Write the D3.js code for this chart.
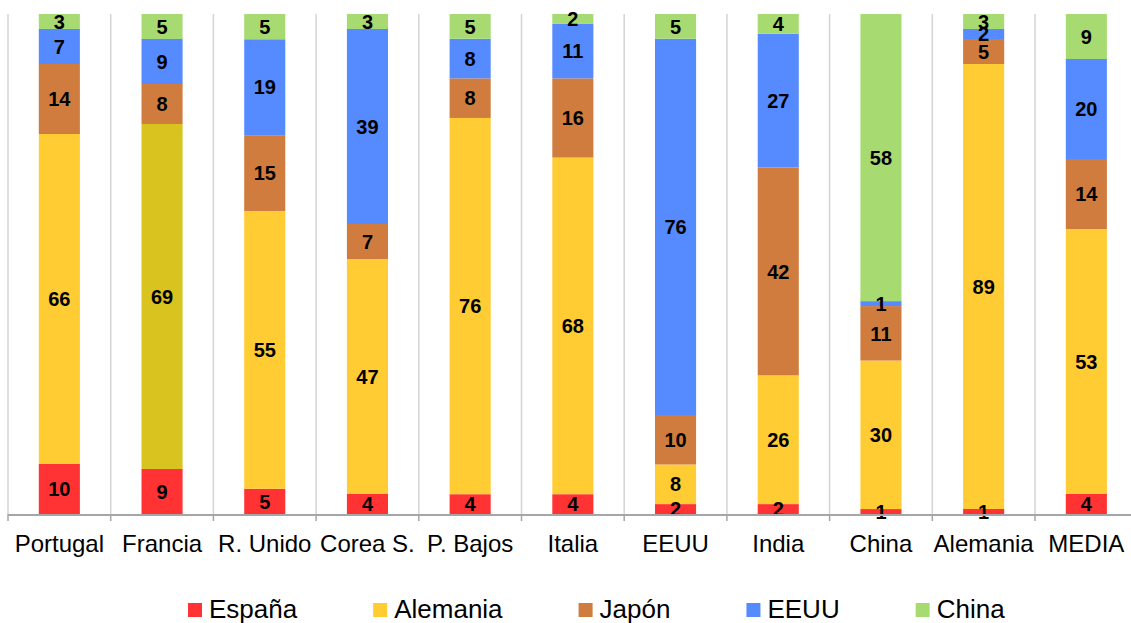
<!DOCTYPE html>
<html>
<head>
<meta charset="utf-8">
<style>
body { margin: 0; background: #fff; }
svg { display: block; font-family: "Liberation Sans", Arial, sans-serif; }
.lbl { font-weight: bold; font-size: 20px; fill: #000; }
.cat { font-size: 24px; fill: #000; }
.leg { font-size: 26px; fill: #000; }
</style>
</head>
<body>
<svg width="1131" height="623"></svg>
<script src="https://d3js.org/d3.v7.min.js"></script>
<script>

var categories = ["Portugal", "Francia", "R. Unido", "Corea S.", "P. Bajos", "Italia", "EEUU", "India", "China", "Alemania", "MEDIA"];
var seriesNames = ["España", "Alemania", "Japón", "EEUU", "China"];

var espana   = [10,  9,  5,  4,  4,  4,  2,  2,  1,  1,  4];
var alemania = [66, 69, 55, 47, 76, 68,  8, 26, 30, 89, 53];
var japon    = [14,  8, 15,  7,  8, 16, 10, 42, 11,  5, 14];
var eeuu     = [ 7,  9, 19, 39,  8, 11, 76, 27,  1,  2, 20];
var china    = [ 3,  5,  5,  3,  5,  2,  5,  4, 58,  3,  9];

var colors = ["#ff3333", "#ffcc33", "#d07c3e", "#558bff", "#a8da72"];
var francia_alemania = "#d9c31e"; // that one bar is drawn in another shade

var svg = d3.select("svg"),
    top0 = 14, bottom0 = 514, left0 = 8,
    step = 102.7;

// rows, normalised to 100%
var rows = categories.map(function(c, i) {
  var vals = [espana[i], alemania[i], japon[i], eeuu[i], china[i]];
  var sum = d3.sum(vals);
  var r = {cat: c};
  seriesNames.forEach(function(s, j) { r[s] = vals[j] / sum; r[s + "_v"] = vals[j]; });
  return r;
});

var stack = d3.stack().keys(seriesNames);
var layers = stack(rows);

var x = d3.scaleBand()
    .domain(categories)
    .range([left0, left0 + step * categories.length])
    .paddingInner(0.6)
    .paddingOuter(0.3);

var y = d3.scaleLinear().domain([0, 1]).range([bottom0, top0]);

// separators between categories
var bounds = d3.range(categories.length + 1).map(function(i) { return left0 + i * x.step(); });
svg.append("g").selectAll("line")
    .data(bounds)
  .enter().append("line")
    .attr("x1", function(d) { return d; })
    .attr("x2", function(d) { return d; })
    .attr("y1", top0)
    .attr("y2", bottom0)
    .attr("stroke", "#d4d4d4")
    .attr("stroke-width", 1.5);

// bars
var g = svg.append("g");
layers.forEach(function(layer, j) {
  g.append("g").selectAll("rect")
      .data(layer)
    .enter().append("rect")
      .attr("x", function(d) { return x(d.data.cat); })
      .attr("width", x.bandwidth())
      .attr("y", function(d) { return y(d[1]); })
      .attr("height", function(d) { return y(d[0]) - y(d[1]); })
      .attr("fill", function(d) {
        return (j === 1 && d.data.cat === "Francia") ? francia_alemania : colors[j];
      });
});

// axis
svg.append("line")
    .attr("x1", left0).attr("x2", 1131)
    .attr("y1", bottom0 + 1).attr("y2", bottom0 + 1)
    .attr("stroke", "#a6a6a6").attr("stroke-width", 2);
svg.append("g").selectAll("line")
    .data(bounds)
  .enter().append("line")
    .attr("x1", function(d) { return d; })
    .attr("x2", function(d) { return d; })
    .attr("y1", bottom0)
    .attr("y2", bottom0 + 7)
    .attr("stroke", "#a6a6a6")
    .attr("stroke-width", 1.5);

// value labels
layers.forEach(function(layer, j) {
  g.append("g").selectAll("text")
      .data(layer)
    .enter().append("text")
      .attr("class", "lbl")
      .attr("x", function(d) { return x(d.data.cat) + x.bandwidth() / 2; })
      .attr("y", function(d) { return (y(d[0]) + y(d[1])) / 2; })
      .attr("text-anchor", "middle")
      .attr("dy", "0.36em")
      .text(function(d) { return d.data[seriesNames[j] + "_v"]; });
});

// category labels
svg.append("g").selectAll("text")
    .data(categories)
  .enter().append("text")
    .attr("class", "cat")
    .attr("x", function(d) { return x(d) + x.bandwidth() / 2; })
    .attr("y", 552)
    .attr("text-anchor", "middle")
    .text(function(d) { return d; });

// legend
var lx = 188;
var leg = svg.append("g");
seriesNames.forEach(function(s, j) {
  leg.append("rect")
      .attr("x", lx).attr("y", 603)
      .attr("width", 14).attr("height", 14)
      .attr("fill", colors[j]);
  var t = leg.append("text")
      .attr("class", "leg")
      .attr("x", lx + 21)
      .attr("y", 618)
      .text(s);
  lx += 21 + t.node().getComputedTextLength() + 76;
});

</script>
</body>
</html>
